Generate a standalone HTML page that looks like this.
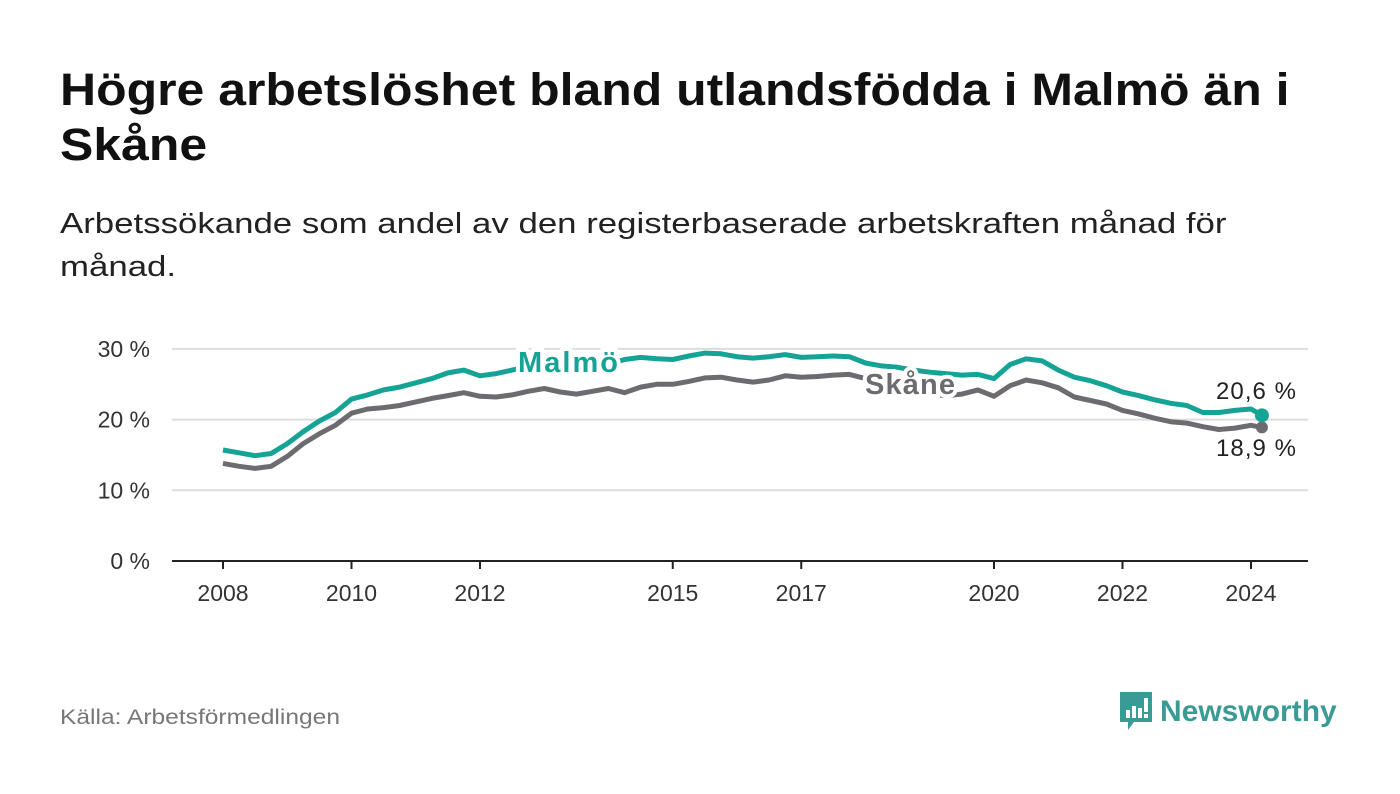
<!DOCTYPE html>
<html><head><meta charset="utf-8"><style>
body{margin:0;width:1400px;height:794px;background:#fff;font-family:"Liberation Sans","DejaVu Sans",sans-serif;overflow:hidden;position:relative}
h1{position:absolute;left:60px;top:62px;margin:0;font-size:45px;line-height:55px;font-weight:bold;color:#111;transform:scaleX(1.11);transform-origin:0 0;white-space:nowrap}
.sub{position:absolute;left:60px;top:203px;font-size:29px;line-height:43px;color:#222;transform:scaleX(1.2);transform-origin:0 0;white-space:nowrap}
.src{position:absolute;left:60px;top:706px;font-size:21px;color:#777;transform:scaleX(1.17);transform-origin:0 0;white-space:nowrap}
.logo{position:absolute;left:1118px;top:690px;display:flex;align-items:center}
.logo span{font-size:30px;font-weight:bold;color:#3a9a94;margin-left:6px}
</style></head><body>
<h1>Högre arbetslöshet bland utlandsfödda i Malmö än i<br>Skåne</h1>
<div class="sub">Arbetssökande som andel av den registerbaserade arbetskraften månad för<br>månad.</div>
<svg id="chart" width="1400" height="794" style="position:absolute;left:0;top:0"></svg>
<div class="src">Källa: Arbetsförmedlingen</div>
<div class="logo">
<svg width="36" height="44" viewBox="0 0 36 44"><path d="M2 2h32v30H16l-6 8v-8H2z" fill="#3a9a94"/><rect x="8" y="20" width="4" height="8" fill="#fff"/><rect x="14" y="16" width="4" height="12" fill="#fff"/><rect x="20" y="18" width="4" height="10" fill="#fff"/><rect x="26" y="8" width="4" height="14" fill="#fff"/><rect x="26" y="24" width="4" height="4" fill="#fff"/></svg>
<span>Newsworthy</span></div>
<script>
const yTicks=[0,10,20,30];
const xTickYears=[2008,2010,2012,2015,2017,2020,2022,2024];
const malmo=[15.7,15.3,14.9,15.2,16.6,18.3,19.8,21.0,22.9,23.5,24.2,24.6,25.2,25.8,26.6,27.0,26.2,26.5,27.0,27.5,27.6,27.8,28.0,27.9,27.8,28.5,28.8,28.6,28.5,29.0,29.4,29.3,28.9,28.7,28.9,29.2,28.8,28.9,29.0,28.9,28.0,27.6,27.4,27.0,26.7,26.5,26.3,26.4,25.8,27.8,28.6,28.3,27.0,26.0,25.5,24.8,23.9,23.4,22.8,22.3,22.0,21.0,21.0,21.3,21.5,20.6];
const skane=[13.8,13.4,13.1,13.4,14.8,16.6,18.0,19.2,20.9,21.5,21.7,22.0,22.5,23.0,23.4,23.8,23.3,23.2,23.5,24.0,24.4,23.9,23.6,24.0,24.4,23.8,24.6,25.0,25.0,25.4,25.9,26.0,25.6,25.3,25.6,26.2,26.0,26.1,26.3,26.4,25.8,25.0,24.3,23.8,23.6,23.4,23.6,24.2,23.3,24.8,25.6,25.2,24.5,23.2,22.7,22.2,21.3,20.8,20.2,19.7,19.5,19.0,18.6,18.8,19.2,18.9];
const svg=document.getElementById('chart');const NS='http://www.w3.org/2000/svg';
const X=t=>223+(t-2008)*64.25, Y=v=>561-v*7.07;
const T=i=>i<65?2008+i*0.25:2024.17;
function mk(tag,a,txt){const e=document.createElementNS(NS,tag);for(const k in a)e.setAttribute(k,a[k]);if(txt!==undefined)e.textContent=txt;svg.appendChild(e);return e;}
yTicks.forEach(v=>{
 const l=mk('line',{x1:172,x2:1308,y1:Y(v),y2:Y(v),stroke:v?'#ddd':'#222','stroke-width':2});
 
 
 const t=mk('text',{x:150,y:Y(v)+8,'text-anchor':'end','font-size':23,fill:'#333'},v+' %');
 
 
});
xTickYears.forEach(y=>{
 const l=mk('line',{x1:X(y),x2:X(y),y1:561,y2:569,stroke:'#222','stroke-width':2});
 
 
 const t=mk('text',{x:X(y),y:601,'text-anchor':'middle','font-size':23,fill:'#333'},y);
 
 
});
function line(arr,col,name){
 const d=arr.map((v,i)=>(i?'L':'M')+X(T(i)).toFixed(1)+','+Y(v).toFixed(1)).join('');
 const p=mk('path',{d:d,fill:'none',stroke:col,'stroke-width':5,'stroke-linejoin':'round'});
 
 
}
line(skane,'#6d6b70','skane-line');
line(malmo,'#14a395','malmo-line');
const n=malmo.length-1;
const d1=mk('circle',{cx:X(T(n)),cy:Y(skane[n]),r:6,fill:'#6d6b70'});


const d2=mk('circle',{cx:X(T(n)),cy:Y(malmo[n]),r:7,fill:'#14a395'});


function lab(x,y,txt,col,name,w){
 const h=mk('text',{x:x,y:y,'font-size':29,'font-weight':'bold',fill:'none',stroke:'#fff','stroke-width':8,textLength:w},txt);
 
 
 const t=mk('text',{x:x,y:y,'font-size':29,'font-weight':'bold',fill:col,textLength:w},txt);
 
 
}
lab(518,372,'Malmö','#14a395','malmo-label',100);
lab(865,394,'Skåne','#6d6b70','skane-label',90);
const v1=mk('text',{x:1256,y:399,'text-anchor':'middle','font-size':24,fill:'#222',textLength:80},malmo[n].toFixed(1).replace('.',',')+' %');


const v2=mk('text',{x:1256,y:456,'text-anchor':'middle','font-size':24,fill:'#222',textLength:80},skane[n].toFixed(1).replace('.',',')+' %');


</script>
</body></html>
